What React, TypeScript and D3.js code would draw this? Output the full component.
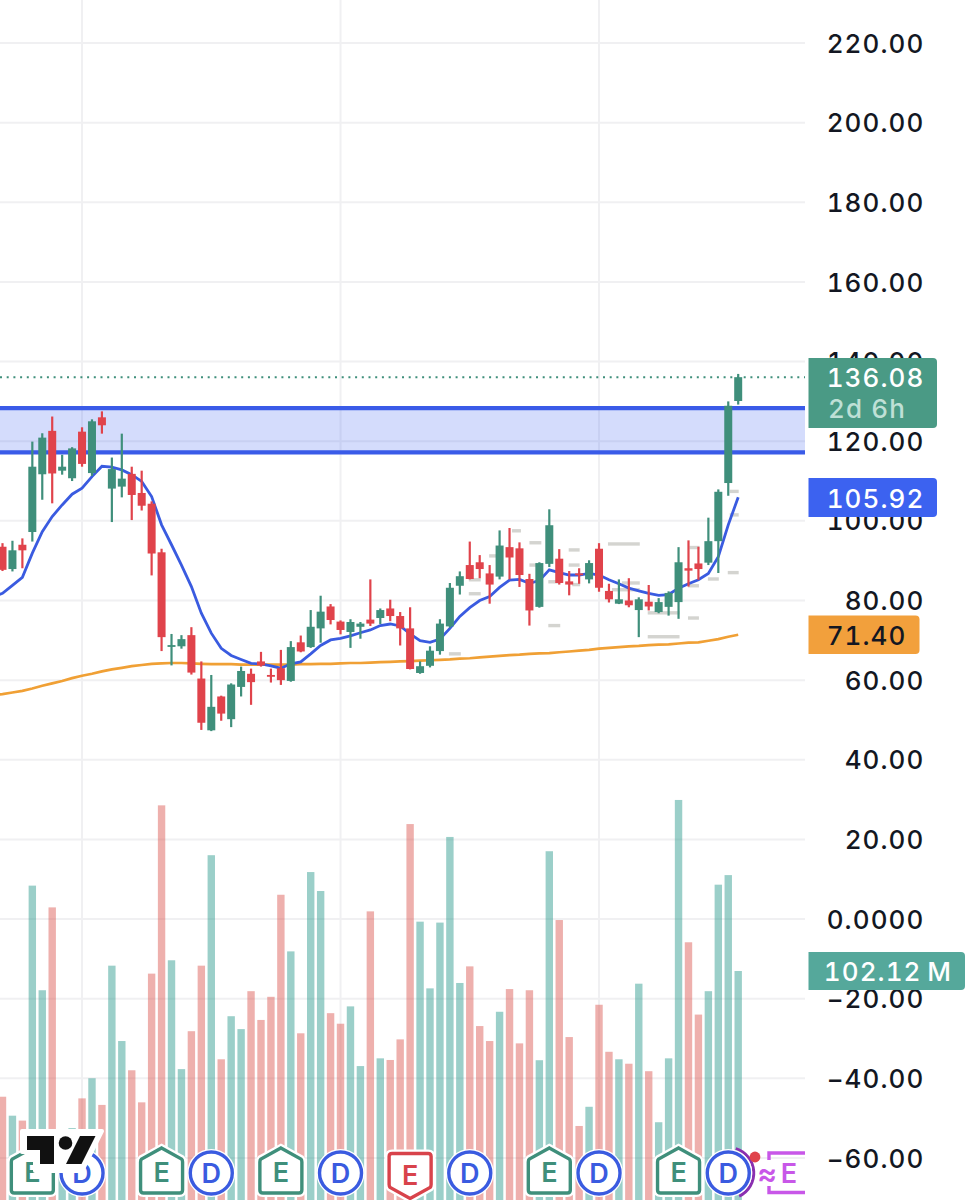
import React, { useRef, useEffect } from "react";
import * as d3 from "d3";

// OHLC per bar
const opens = [
  93.5, 87.9, 94.0, 97.2, 111.7, 122.6, 112.6, 110.7, 122.4, 112,
  126, 108.1, 108.6, 111.8, 107, 104.3, 92.1, 68.4, 68.5, 71.3,
  60.4, 47.4, 55.9, 50.2, 58.3, 61.6, 64.7, 61.3, 63, 59.8,
  69.5, 68.3, 73, 78.5, 74.7, 72.1, 73.4, 75.2, 75.6, 78,
  76.1, 73, 61.8, 63.6, 67.3, 73.5, 83.7, 88.9, 89.6, 86.8,
  86, 93.4, 93.1, 85.4, 78.4, 89.2, 90.5, 84.8, 86.8, 85.3,
  93, 82.4, 79.2, 80, 77.6, 79.7, 77.1, 78.4, 79.6, 88.1,
  89.3, 89.5, 94.9, 109.5, 130.1,
];
const highs = [
  94.4, 95, 95.6, 119.9, 122, 126.2, 116.6, 118.5, 123.5, 125.5,
  127.5, 115.9, 121.9, 113.6, 112.6, 104.9, 93, 71.6, 71.3, 73.3,
  64.7, 61.3, 56.1, 59.2, 63.4, 62.9, 67.1, 62.9, 67.6, 69.8,
  71.2, 77.6, 81.2, 79.1, 75, 75.3, 74.6, 85.3, 78, 80.2,
  77.1, 78.3, 64.7, 68.5, 75.3, 84.4, 87.3, 94.8, 91.4, 88.9,
  97.6, 98.2, 94.6, 86.7, 89.6, 102.9, 92.9, 87.4, 88.1, 90.1,
  94.4, 84.2, 85.3, 85.6, 80.8, 83.9, 80.6, 82.3, 93.4, 95.1,
  93.5, 100.8, 107.9, 130, 136.9,
];
const lows = [
  87.4, 87.3, 88.1, 94.8, 105.3, 104.4, 111.6, 110, 113.6, 111.3,
  121.9, 99.7, 105.9, 100.2, 102.6, 86.3, 67.3, 63.7, 67.9, 61.4,
  47.5, 47.2, 49.8, 48.2, 55.9, 53.8, 63.4, 59.4, 58.8, 59.6,
  67, 68.1, 69.4, 74, 71.5, 68.1, 70.4, 73.6, 74.1, 74.8,
  68.7, 62.7, 61.6, 63.2, 66.4, 73.2, 81.5, 85.3, 85.6, 79.2,
  85.3, 85.3, 83.4, 73.7, 78.2, 88.4, 84, 81.3, 84.2, 84.3,
  82.2, 79.5, 79.1, 78.3, 70.8, 77.5, 76.8, 76.2, 75.4, 83.5,
  85.2, 88.9, 86.9, 106.3, 129.2,
];
const closes = [
  87.7, 92.6, 92.6, 113.6, 120.9, 111.9, 113.6, 118.2, 114.3, 125,
  124, 113, 110.6, 106.5, 103.8, 91.8, 70.8, 68.8, 70.3, 61.9,
  49.3, 53.3, 51.6, 58.9, 62.3, 59.5, 63.7, 60.9, 60, 68.3,
  67.2, 73.4, 77.2, 75.1, 72.6, 74.6, 74.2, 74.2, 77.6, 76.1,
  73, 62.8, 63.5, 67.4, 74.2, 83.2, 86.1, 85.4, 87.9, 84,
  93.8, 90.8, 86.4, 77.5, 89.4, 98.9, 84.4, 84, 86.5, 89.4,
  83.2, 80.3, 80.3, 78.8, 80.3, 78.5, 79.6, 81.9, 89.6, 87.5,
  87.9, 94.9, 107.3, 128.9, 136.08,
];
// Volume in millions (bars run off the bottom of the picture)
const volumes = [
  48.4, 40.3, 38.2, 138.6, 93.9, 129.3, 31.3, 35, 47.7, 56.3,
  44.9, 104.4, 72.2, 59.7, 46, 101, 172.9, 106.7, 60.2, 76.4,
  104.4, 151.6, 64.4, 82.8, 77.3, 93.5, 81.2, 91.1, 134.7, 110.5,
  75.5, 144.4, 136.3, 84.1, 79.6, 87, 61.5, 127.6, 64.8, 64.1,
  72.9, 164.9, 123.2, 94.7, 122.8, 159.4, 97, 104.1, 78.6, 72.2,
  84.7, 94.4, 71.2, 93.9, 64, 153.3, 123.9, 73.9, 35.9, 44.1,
  87.7, 67.6, 64.4, 62.5, 96.7, 59.3, 37.5, 64.8, 175.2, 114.4,
  83.5, 93.5, 139, 143.1, 102.12,
];
// Moving averages start one bar before the first candle, off the left edge
const maFast = [
  80.8, 81.8, 83.8, 85.8, 91.9, 97.3, 101.1, 104, 106.7, 108.2,
  111.1, 113.7, 113.5, 112.8, 111.6, 109.9, 106.1, 99, 94, 88.9,
  83.5, 76.8, 71.8, 68, 66.2, 65.2, 64.2, 64.1, 63.6, 63,
  64.1, 64.6, 66.6, 68.7, 70.1, 70.5, 71.1, 71.9, 72.6, 73.7,
  74.1, 73.6, 71.6, 69.9, 69.5, 70.3, 73, 76, 78.2, 80,
  81, 83.3, 85.1, 85.3, 84.3, 85, 87.7, 87, 86.4, 86.4,
  86.8, 86.4, 85.2, 84.2, 83.1, 82.4, 81.8, 81.3, 81.5, 83.1,
  84.2, 85.2, 86.8, 91, 99, 105.92,
];
const maSlow = [
  56.2, 56.5, 56.9, 57.3, 57.9, 58.6, 59.2, 59.8, 60.5, 61.1,
  61.6, 62.2, 62.7, 63.1, 63.5, 63.8, 64.1, 64.2, 64.3, 64.3,
  64.2, 64.1, 64, 64, 64, 63.9, 63.9, 63.9, 63.9, 63.9,
  63.9, 64, 64, 64.1, 64.1, 64.2, 64.3, 64.3, 64.4, 64.5,
  64.6, 64.7, 64.8, 64.9, 65, 65.1, 65.2, 65.4, 65.5, 65.7,
  65.9, 66.1, 66.3, 66.4, 66.6, 66.7, 66.8, 67, 67.2, 67.4,
  67.6, 67.9, 68.1, 68.3, 68.5, 68.6, 68.8, 68.9, 69, 69.2,
  69.4, 69.5, 69.9, 70.3, 70.9, 71.4,
];

const priceTicks = [220, 200, 180, 160, 140, 120, 100, 80, 60, 40, 20, 0, -20, -40, -60];
const tickLabels = [
  "220.00", "200.00", "180.00", "160.00", "140.00", "120.00", "100.00", "80.00",
  "60.00", "40.00", "20.00", "0.0000", "−20.00", "−40.00", "−60.00",
];
const timeGridBars = [8, 34, 60];
const zone = [128.3, 117.2];

const earningsUp = [3, 16, 28, 55, 68];
const earningsDown = [41];
const dividends = [8, 21, 34, 47, 60, 73];

// tiny grey trade notes: bar, price, how many bars wide
const noteBars = [55.5, 62.5, 57.5, 57.5, 57.7, 73.6, 71.5, 73.5, 69.5, 69.5, 69.6, 66.5, 66.5, 62.7, 63.2, 73.6, 45.5, 47.5, 47.5, 49.3, 51.7, 53.6, 53.4, 55.5];
const notePrices = [73.7, 94.2, 92.7, 88.9, 84, 101.5, 85.4, 87, 75.6, 83.7, 93.3, 70.9, 76.9, 82.7, 84.4, 107.4, 66.6, 81.7, 85.2, 91.2, 97.5, 94.5, 88.9, 84.7];
const noteSpans = [1.2, 3.2, 1.1, 1.1, 0.8, 0.9, 1.1, 1.1, 1.1, 1.1, 1, 3.2, 3.2, 2.8, 1.8, 0.9, 1.2, 1.2, 1.2, 0.7, 0.9, 1.2, 0.8, 1.2];

const lastPrice = "136.08";
const countdown = "2d 6h";
const fastLabel = "105.92";
const slowLabel = "71.40";
const volumeLabel = "102.12\u2009M";

const GREEN = "#3f8f7b";
const RED = "#e0434b";
const BLUE = "#3a5be0";
const FONT = "Inter, 'Noto Sans', sans-serif";

// badge with square left edge and rounded right corners
const badgePath = (x0: number, y0: number, x1: number, y1: number, r = 4) =>
  `M${x0},${y0}H${x1 - r}Q${x1},${y0} ${x1},${y0 + r}V${y1 - r}Q${x1},${y1} ${x1 - r},${y1}H${x0}Z`;

export default function App() {
  const svgRef = useRef<SVGSVGElement>(null);

  useEffect(() => {
    if (!svgRef.current) return;
    const svg = d3.select(svgRef.current);
    svg.selectAll("*").remove();

    const plotRight = 805;
    const x = d3.scaleLinear().domain([0, 74]).range([2.5, 738.2]);
    const y = d3.scaleLinear().domain([-60, 220]).range([1158, 43]);
    const yVol = d3.scaleLinear().domain([0, 102.12]).range([1210, 971]);
    const bars = d3.range(opens.length);
    const colorOf = (i: number) => (closes[i] >= opens[i] ? GREEN : RED);

    svg.append("defs").append("clipPath").attr("id", "plot")
      .append("rect").attr("x", 0).attr("y", 0).attr("width", plotRight).attr("height", 1200);

    const plot = svg.append("g").attr("clip-path", "url(#plot)");

    // Grid
    plot.selectAll(".h-grid").data(priceTicks).enter().append("line")
      .attr("x1", 0).attr("x2", plotRight)
      .attr("y1", (d) => y(d)).attr("y2", (d) => y(d))
      .attr("stroke", "#f0f0f2").attr("stroke-width", 2);
    plot.selectAll(".v-grid").data(timeGridBars).enter().append("line")
      .attr("x1", (d) => x(d)).attr("x2", (d) => x(d))
      .attr("y1", 0).attr("y2", 1200)
      .attr("stroke", "#f0f0f2").attr("stroke-width", 2);

    // Volume
    plot.selectAll(".vol").data(bars).enter().append("rect")
      .attr("x", (i) => x(i) - 3.7)
      .attr("width", 7.4)
      .attr("y", (i) => yVol(volumes[i]))
      .attr("height", (i) => 1210 - yVol(volumes[i]))
      .attr("fill", (i) => (closes[i] >= opens[i] ? "#26978a" : "#d9524c"))
      .attr("opacity", 0.46);

    // Resistance zone
    plot.append("rect")
      .attr("x", 0).attr("width", plotRight)
      .attr("y", y(zone[0])).attr("height", y(zone[1]) - y(zone[0]))
      .attr("fill", "#3d5ef0").attr("opacity", 0.22);
    plot.selectAll(".zone-line").data(zone).enter().append("line")
      .attr("x1", 0).attr("x2", plotRight)
      .attr("y1", (d) => y(d)).attr("y2", (d) => y(d))
      .attr("stroke", "#3a5be8").attr("stroke-width", 4.4);

    // Last price dotted line
    plot.append("line")
      .attr("x1", 0).attr("x2", plotRight)
      .attr("y1", y(+lastPrice)).attr("y2", y(+lastPrice))
      .attr("stroke", GREEN).attr("stroke-width", 2)
      .attr("stroke-dasharray", "2,4.7");

    // Trade notes
    plot.selectAll(".note").data(noteBars).enter().append("rect")
      .attr("x", (d, i) => x(d) - (noteSpans[i] * 9.94) / 2)
      .attr("y", (d, i) => y(notePrices[i]) - 1.7)
      .attr("width", (d, i) => noteSpans[i] * 9.94)
      .attr("height", 3.4)
      .attr("fill", "#d4d4d0");

    // Moving averages
    const line = d3.line<number>().x((d, i) => x(i - 1)).y((d) => y(d));
    plot.append("path").datum(maSlow)
      .attr("fill", "none").attr("stroke", "#f0a035").attr("stroke-width", 2.7).attr("d", line);
    plot.append("path").datum(maFast)
      .attr("fill", "none").attr("stroke", "#3a5be0").attr("stroke-width", 2.8).attr("d", line);

    // Candles
    plot.selectAll(".wick").data(bars).enter().append("line")
      .attr("x1", (i) => x(i)).attr("x2", (i) => x(i))
      .attr("y1", (i) => y(highs[i])).attr("y2", (i) => y(lows[i]))
      .attr("stroke", colorOf).attr("stroke-width", 2.2);
    plot.selectAll(".body").data(bars).enter().append("rect")
      .attr("x", (i) => x(i) - 4)
      .attr("width", 8)
      .attr("y", (i) => y(Math.max(opens[i], closes[i])))
      .attr("height", (i) => Math.max(1.8, Math.abs(y(opens[i]) - y(closes[i]))))
      .attr("fill", colorOf);

    // Event markers
    const rowY = 1173;
    const ev = plot.append("g").attr("font-family", FONT).attr("font-weight", 600)
      .attr("font-size", 27).attr("text-anchor", "middle");

    // purple arc + red dot behind the last dividend
    ev.append("path")
      .attr("d", d3.arc()({ innerRadius: 24, outerRadius: 27, startAngle: 0.3, endAngle: 2.7 }) as string)
      .attr("transform", `translate(${x(73)},${rowY})`)
      .attr("fill", "#8a2fb0");

    const pentagonUp = "M0,-24 L20,-13 Q21,-12 21,-10 L21,18 Q21,21 18,21 L-18,21 Q-21,21 -21,18 L-21,-10 Q-21,-12 -20,-13 Z";
    const pentagonDown = "M-18,-21 L18,-21 Q21,-21 21,-18 L21,10 Q21,12 20,13 L0,24 L-20,13 Q-21,12 -21,10 L-21,-18 Q-21,-21 -18,-21 Z";

    const drawE = (i: number, d: string, color: string, dy: number) => {
      const g = ev.append("g").attr("transform", `translate(${x(i)},${rowY + dy})`);
      g.append("path").attr("d", d).attr("fill", "#fff").attr("stroke", "#fff").attr("stroke-width", 8);
      g.append("path").attr("d", d).attr("fill", "#fff").attr("stroke", color).attr("stroke-width", 3.4);
      g.append("text").attr("y", 10).attr("fill", color).text("E");
    };
    earningsUp.forEach((i) => drawE(i, pentagonUp, GREEN, -1));
    earningsDown.forEach((i) => drawE(i, pentagonDown, "#d8434b", 1.5));

    dividends.forEach((i) => {
      const g = ev.append("g").attr("transform", `translate(${x(i)},${rowY})`);
      g.append("circle").attr("r", 21).attr("fill", "#fff").attr("stroke", "#fff").attr("stroke-width", 6);
      g.append("circle").attr("r", 21).attr("fill", "#fff").attr("stroke", BLUE).attr("stroke-width", 3.4);
      g.append("text").attr("y", 10).attr("fill", BLUE).text("D");
    });

    ev.append("circle").attr("cx", 755).attr("cy", 1157).attr("r", 5.4).attr("fill", "#e0434b");

    // Future earnings bracket
    const future = plot.append("g");
    future.append("path")
      .attr("d", "M806,1153 H769 V1192.5 H806")
      .attr("fill", "none").attr("stroke", "#c857e8").attr("stroke-width", 3.4);
    future.append("rect").attr("x", 760).attr("y", 1160).attr("width", 15).attr("height", 26).attr("fill", "#fff");
    future.append("text").attr("x", 767).attr("y", 1184)
      .attr("text-anchor", "middle").attr("font-family", FONT).attr("font-weight", 600).attr("font-size", 30)
      .attr("fill", "#c857e8").text("≈");
    future.append("text").attr("x", 789).attr("y", 1183)
      .attr("text-anchor", "middle").attr("font-family", FONT).attr("font-weight", 600)
      .attr("font-size", 27).attr("fill", "#c857e8").text("E");

    // TradingView mark
    const logo = svg.append("g").attr("transform", "translate(27,1136)");
    logo.append("path")
      .attr("d", "M-5,-5 H75 V-5 L55,35 H8 V16 H-5 Z")
      .attr("fill", "#fff").attr("stroke", "#fff").attr("stroke-width", 4).attr("stroke-linejoin", "round");
    logo.append("path").attr("d", "M0,0 H27 V28 H13 V14 H0 Z").attr("fill", "#111");
    logo.append("circle").attr("cx", 38.5).attr("cy", 7).attr("r", 6.8).attr("fill", "#111");
    logo.append("path").attr("d", "M53,0 H68.5 L54.5,28 H39 Z").attr("fill", "#111");

    // Price axis labels
    const axis = svg.append("g").attr("font-family", FONT).attr("font-weight", 500)
      .attr("font-size", 26).attr("letter-spacing", 1.1).attr("fill", "#131722")
      .style("font-variant-numeric", "tabular-nums");
    axis.selectAll("text").data(priceTicks).enter().append("text")
      .attr("x", 924.5)
      .attr("y", (d) => y(d) + 9.6)
      .attr("text-anchor", "end")
      .text((d, i) => tickLabels[i]);

    // Badges
    const badges = svg.append("g").attr("font-family", FONT).attr("font-weight", 500)
      .attr("font-size", 26).attr("letter-spacing", 1.1)
      .style("font-variant-numeric", "tabular-nums");

    badges.append("path").attr("d", badgePath(808.5, 358, 937, 428)).attr("fill", "#4a9a85");
    badges.append("text").attr("x", 924.5).attr("y", 387).attr("text-anchor", "end").attr("fill", "#fff").text(lastPrice);
    badges.append("text").attr("x", 828).attr("y", 418).attr("fill", "#bfe0d6").text(countdown);

    badges.append("path").attr("d", badgePath(808.5, 478, 937, 517)).attr("fill", "#3c62f0");
    badges.append("text").attr("x", 924.5).attr("y", 507.5).attr("text-anchor", "end").attr("fill", "#fff").text(fastLabel);

    badges.append("path").attr("d", badgePath(808.5, 615.5, 919.5, 654)).attr("fill", "#f2a03c");
    badges.append("text").attr("x", 906.5).attr("y", 644.5).attr("text-anchor", "end").attr("fill", "#131722").text(slowLabel);

    badges.append("path").attr("d", badgePath(808.5, 952, 965, 990)).attr("fill", "#55a89b");
    badges.append("text").attr("x", 952).attr("y", 981).attr("text-anchor", "end").attr("fill", "#fff").text(volumeLabel);
  }, []);

  return (
    <svg
      ref={svgRef}
      width={974}
      height={1200}
      style={{ position: "absolute", left: 0, top: 0, display: "block", background: "#fff" }}
    />
  );
}
